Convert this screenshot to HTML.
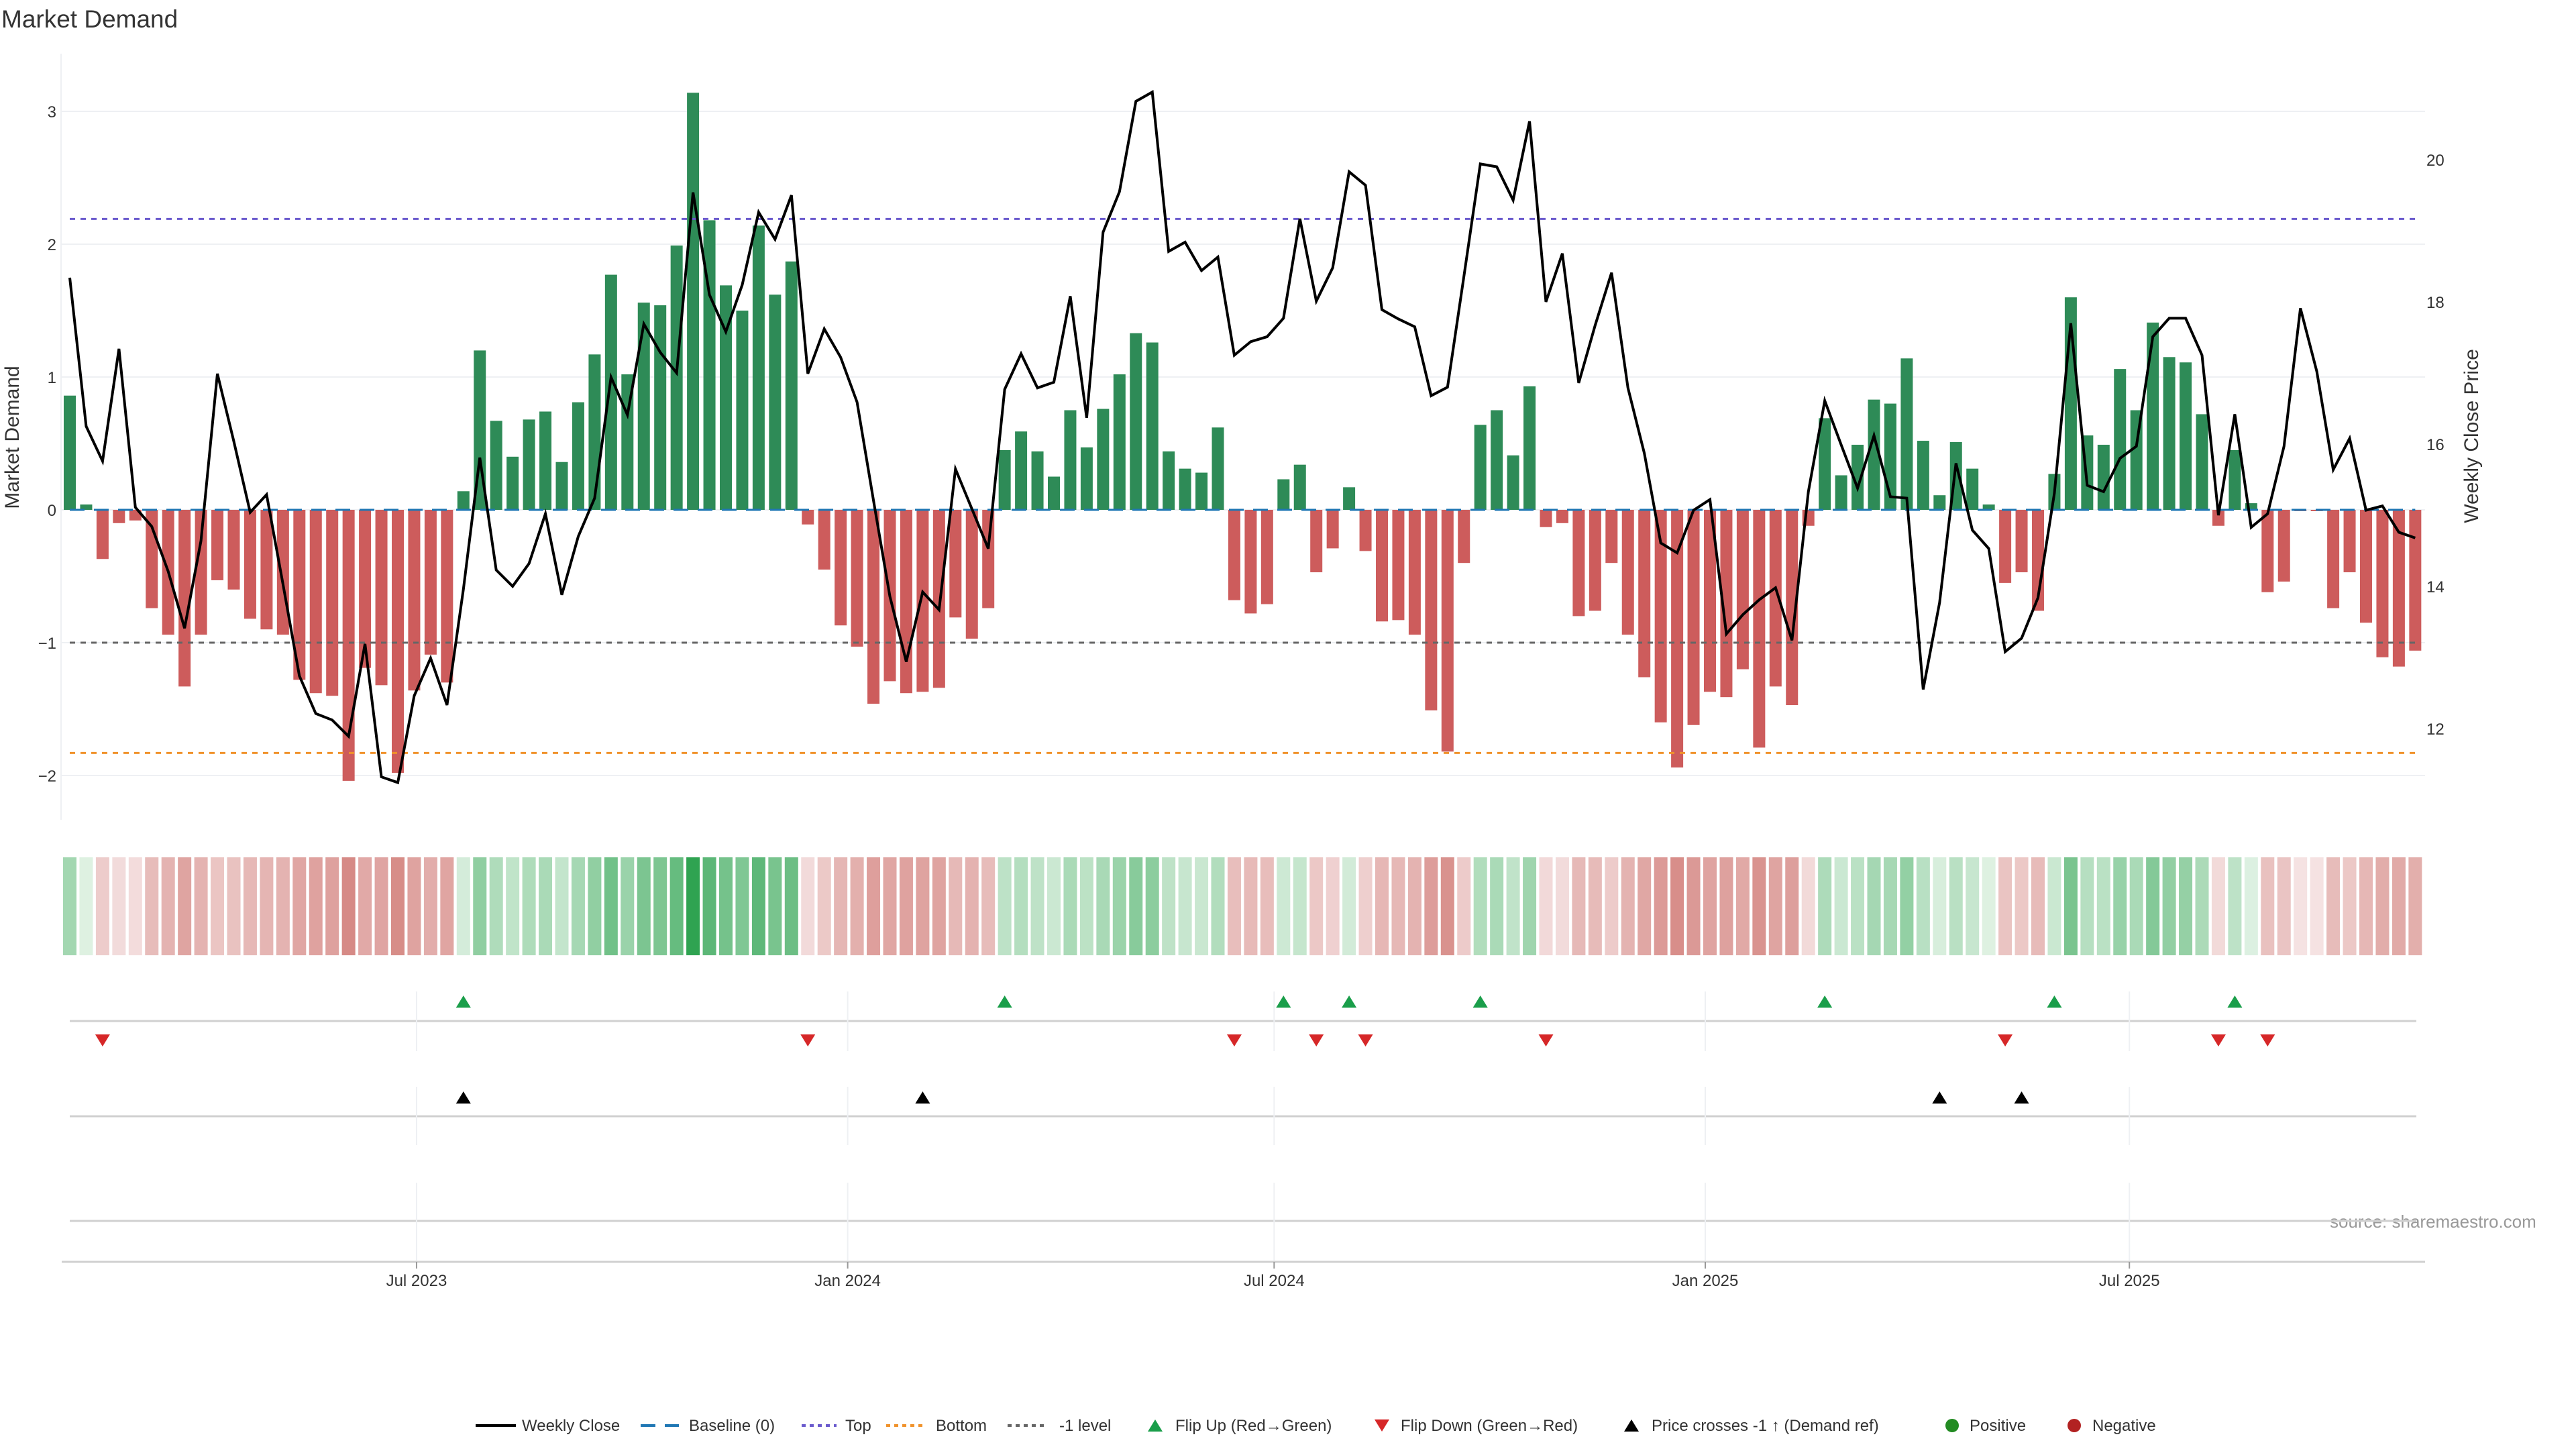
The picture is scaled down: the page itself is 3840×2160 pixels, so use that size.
<!DOCTYPE html>
<html><head><meta charset="utf-8"><title>Market Demand</title>
<style>html,body{margin:0;padding:0;background:#fff}svg{display:block;font-family:"Liberation Sans","DejaVu Sans",sans-serif}</style>
</head><body>
<svg id="chart" width="3840" height="2160" viewBox="0 0 3840 2160" xmlns="http://www.w3.org/2000/svg">
<text x="2" y="41" font-size="37" fill="#333">Market Demand</text>
<text transform="translate(28,652) rotate(-90)" text-anchor="middle" font-size="30" fill="#333">Market Demand</text>
<text transform="translate(3694,650) rotate(-90)" text-anchor="middle" font-size="30" fill="#333">Weekly Close Price</text>
<text x="3473" y="1830" font-size="26" fill="#999">source: sharemaestro.com</text>
<g id="g"></g>
</svg>
<script>
const demand = [0.86,0.04,-0.37,-0.10,-0.08,-0.74,-0.94,-1.33,-0.94,-0.53,-0.60,-0.82,-0.90,-0.94,-1.28,-1.38,-1.40,-2.04,-1.19,-1.32,-1.98,-1.36,-1.09,-1.30,0.14,1.20,0.67,0.40,0.68,0.74,0.36,0.81,1.17,1.77,1.02,1.56,1.54,1.99,3.14,2.18,
1.69,1.50,2.14,1.62,1.87,-0.11,-0.45,-0.87,-1.03,-1.46,-1.29,-1.38,-1.37,-1.34,-0.81,-0.97,-0.74,0.45,0.59,0.44,0.25,0.75,0.47,0.76,1.02,1.33,1.26,0.44,0.31,0.28,0.62,-0.68,-0.78,-0.71,0.23,0.34,-0.47,-0.29,0.17,-0.31,-0.84,
-0.83,-0.94,-1.51,-1.82,-0.40,0.64,0.75,0.41,0.93,-0.13,-0.10,-0.80,-0.76,-0.40,-0.94,-1.26,-1.60,-1.94,-1.62,-1.37,-1.41,-1.20,-1.79,-1.33,-1.47,-0.12,0.69,0.26,0.49,0.83,0.80,1.14,0.52,0.11,0.51,0.31,0.04,-0.55,-0.47,
-0.76,0.27,1.60,0.56,0.49,1.06,0.75,1.41,1.15,1.11,0.72,-0.12,0.45,0.05,-0.62,-0.54,-0.01,-0.01,-0.74,-0.47,-0.85,-1.11,-1.18,-1.06];
const price = [18.34,16.25,15.76,17.34,15.11,14.84,14.21,13.41,14.64,16.99,16.04,15.04,15.29,14.03,12.74,12.21,12.12,11.89,13.19,11.32,11.24,12.46,12.99,12.33,13.96,15.81,14.23,14.00,14.32,15.02,13.88,14.70,15.24,16.94,16.41,17.69,17.29,17.00,19.54,18.10,
17.58,18.24,19.26,18.88,19.50,16.99,17.62,17.22,16.59,15.21,13.86,12.94,13.92,13.67,15.65,15.09,14.53,16.77,17.27,16.79,16.87,18.08,16.37,18.98,19.55,20.82,20.95,18.71,18.84,18.44,18.63,17.25,17.44,17.51,17.77,19.17,18.01,18.48,19.83,19.64,
17.89,17.76,17.65,16.68,16.80,18.36,19.94,19.90,19.43,20.54,18.00,18.68,16.86,17.67,18.41,16.79,15.87,14.61,14.47,15.07,15.22,13.33,13.60,13.81,13.98,13.24,15.33,16.61,15.99,15.38,16.12,15.26,15.24,12.55,13.77,15.73,14.79,14.53,13.08,13.27,
13.84,15.31,17.70,15.42,15.33,15.80,15.97,17.51,17.77,17.77,17.25,15.00,16.42,14.83,15.02,15.97,17.91,17.02,15.64,16.08,15.07,15.13,14.76,14.68];
const crossIdx = [24, 52, 114, 119];
const levels = [2.19, -1.83, -1];
const leftTicks = [3, 2, 1, 0, -1, -2];
const rightTicks = [20, 18, 16, 14, 12];
const xTickLabels = ["Jul 2023", "Jan 2024", "Jul 2024", "Jan 2025", "Jul 2025"];
const xTickDates = ["2023-07-01", "2024-01-01", "2024-07-01", "2025-01-01", "2025-07-01"];
const startDate = "2023-02-03";

const NS = "http://www.w3.org/2000/svg";
const G = document.getElementById("g");
function mk(tag, attrs, parent) {
  const e = document.createElementNS(NS, tag);
  for (const k in attrs) e.setAttribute(k, attrs[k]);
  (parent || G).appendChild(e);
  return e;
}
const step = 24.45, x0 = 104, pxPerDay = step / 7;
const xI = i => x0 + step * i;
const xD = d => x0 + (new Date(d) - new Date(startDate)) / 86400000 * pxPerDay;
const yD = v => 760 - 198 * v;
const yP = p => 238 + (20 - p) * 106;
const xEnd = xI(demand.length - 1);

leftTicks.forEach(t => {
  const l = mk("line", {x1: 91, x2: 3615, y1: yD(t), y2: yD(t), stroke: "#eef0f3", "stroke-width": 2});
  
  
  const tx = mk("text", {x: 84, y: yD(t) + 9, "text-anchor": "end", "font-size": 24, fill: "#333"});
  tx.textContent = t < 0 ? "\u2212" + Math.abs(t) : String(t);
  
  
});
const ax = mk("line", {x1: 91, x2: 91, y1: 80, y2: 1222, stroke: "#eef0f3", "stroke-width": 2});


rightTicks.forEach(t => {
  const tx = mk("text", {x: 3617, y: yP(t) + 9, "font-size": 24, fill: "#333"});
  tx.textContent = String(t);
  
  
});

demand.forEach((v, i) => {
  const y = Math.min(yD(v), yD(0)), h = Math.abs(yD(v) - yD(0));
  const r = mk("rect", {x: xI(i) - 9, y: y, width: 18, height: Math.max(h, 0.5), fill: v >= 0 ? "#2e8b57" : "#cd5c5c"});
  
  
});

const lvlColors = ["#6a5acd", "#f0922b", "#666"];
const lvlNames = ["top-line", "bottom-line", "minus-one-line"];
levels.forEach((v, k) => {
  const l = mk("line", {x1: 104, x2: xEnd, y1: yD(v), y2: yD(v), stroke: lvlColors[k], "stroke-width": 3, "stroke-dasharray": "8 8"});
  
  
});
const bl = mk("line", {x1: 104, x2: xEnd, y1: yD(0), y2: yD(0), stroke: "#1f77b4", "stroke-width": 3, "stroke-dasharray": "22 14"});



const pl = mk("polyline", {points: price.map((p, i) => xI(i) + "," + yP(p)).join(" "), fill: "none", stroke: "#000", "stroke-width": 4, "stroke-linejoin": "miter"});



function mix(a, b, t) { return "rgb(" + a.map((c, k) => Math.round(c + (b[k] - c) * t)).join(",") + ")"; }
demand.forEach((v, i) => {
  const t = Math.pow(Math.min(Math.abs(v) / 3.2, 1), 0.8);
  const c = v >= 0 ? mix([227, 243, 230], [44, 162, 79], t) : mix([245, 227, 227], [201, 100, 94], t);
  const r = mk("rect", {x: xI(i) - 10, y: 1278, width: 20, height: 146, fill: c});
  
  
});

[1522, 1664, 1820].forEach(y => {
  const l = mk("line", {x1: 104, x2: 3602, y1: y, y2: y, stroke: "#d0d0d0", "stroke-width": 3});
  
  
});
const xa = mk("line", {x1: 92, x2: 3615, y1: 1881, y2: 1881, stroke: "#d0d0d0", "stroke-width": 3});


xTickDates.forEach((d, k) => {
  const x = xD(d);
  [[1478, 1567], [1620, 1707], [1763, 1879]].forEach(s => {
    const l = mk("line", {x1: x, x2: x, y1: s[0], y2: s[1], stroke: "#eef0f3", "stroke-width": 2});
    
    
  });
  const tk = mk("line", {x1: x, x2: x, y1: 1881, y2: 1891, stroke: "#999", "stroke-width": 2});
  
  
  const tx = mk("text", {x: x, y: 1917, "text-anchor": "middle", "font-size": 24, fill: "#333"});
  tx.textContent = xTickLabels[k];
  
  
});
function tri(cx, cy, up, fill) {
  const w = 11, h = 9;
  const pts = up ? [[cx - w, cy + h], [cx + w, cy + h], [cx, cy - h]] : [[cx - w, cy - h], [cx + w, cy - h], [cx, cy + h]];
  return mk("polygon", {points: pts.map(p => p.join(",")).join(" "), fill: fill});
}
for (let i = 1; i < demand.length; i++) {
  if (demand[i - 1] < 0 && demand[i] >= 0) {
    const t = tri(xI(i), 1493, true, "#1a9e4a");
    
    
  } else if (demand[i - 1] >= 0 && demand[i] < 0) {
    const t = tri(xI(i), 1551, false, "#d62728");
    
    
  }
}
crossIdx.forEach(i => {
  const t = tri(xI(i), 1636, true, "#000");
  
  
});

const LY = 2125;
function ltext(x, s) {
  const t = mk("text", {x: x, y: LY + 8, "font-size": 24, fill: "#333"});
  t.textContent = s;
  
  
}
function lline(x1, x2, col, dash, name) {
  const l = mk("line", {x1: x1, x2: x2, y1: LY, y2: LY, stroke: col, "stroke-width": 4, "stroke-dasharray": dash});
  
  
}
lline(709, 769, "#000", "none", "legend-weekly-close"); ltext(778, "Weekly Close");
lline(955, 1012, "#1f77b4", "22 14", "legend-baseline"); ltext(1027, "Baseline (0)");
lline(1195, 1247, "#6a5acd", "6 6", "legend-top"); ltext(1260, "Top");
lline(1321, 1378, "#f0922b", "6 6", "legend-bottom"); ltext(1395, "Bottom");
lline(1502, 1558, "#666", "6 6", "legend-minus-one"); ltext(1579, "-1 level");
let lt = tri(1722, LY, true, "#1a9e4a");


ltext(1752, "Flip Up (Red\u2192Green)");
lt = tri(2060, LY, false, "#d62728");


ltext(2088, "Flip Down (Green\u2192Red)");
lt = tri(2432, LY, true, "#000");


ltext(2462, "Price crosses -1 \u2191 (Demand ref)");
let lc = mk("circle", {cx: 2910, cy: LY, r: 10, fill: "#228b22"});


ltext(2936, "Positive");
lc = mk("circle", {cx: 3092, cy: LY, r: 10, fill: "#b22222"});


ltext(3119, "Negative");
</script>
</body></html>
